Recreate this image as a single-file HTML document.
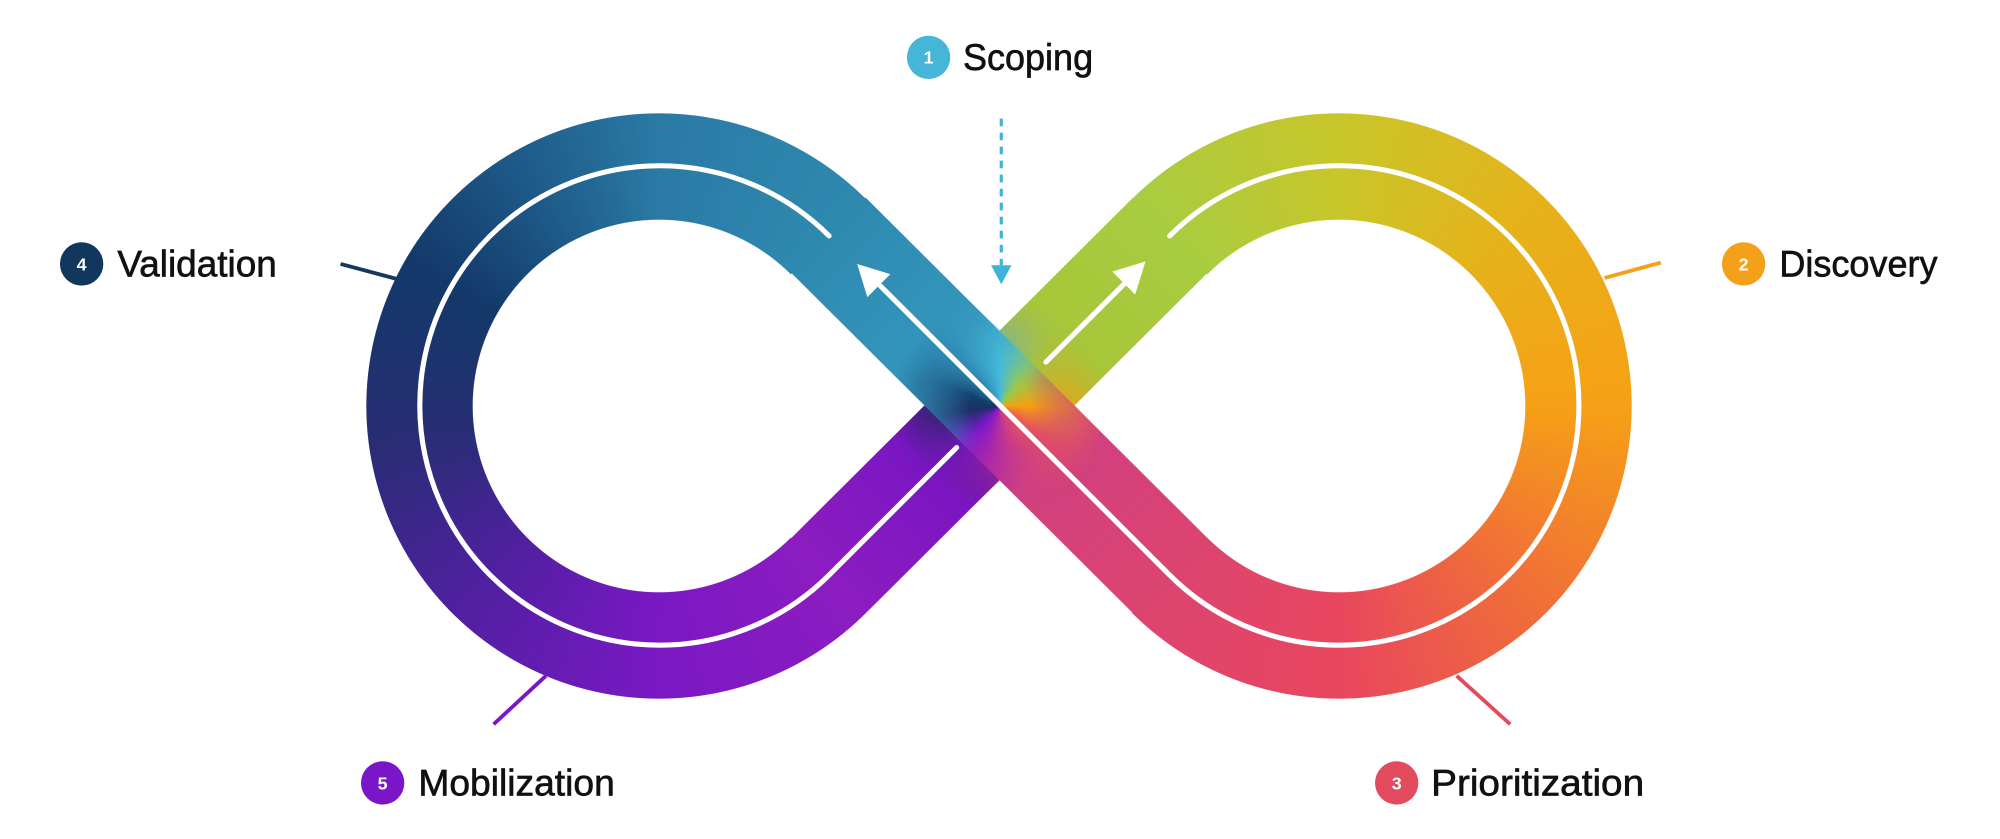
<!DOCTYPE html>
<html><head><meta charset="utf-8"><style>
html,body{margin:0;padding:0;background:#fff;}
body{position:relative;width:2000px;height:839px;overflow:hidden;}
svg{display:block;position:absolute;left:0;top:0;}
text{font-family:"Liberation Sans",sans-serif;}
.ring{position:absolute;width:586px;height:586px;border-radius:50%;
-webkit-mask-image:radial-gradient(circle closest-side,transparent 186px,#000 186.6px,#000 292.4px,transparent 293px);
mask-image:radial-gradient(circle closest-side,transparent 186px,#000 186.6px,#000 292.4px,transparent 293px);}
#L{left:366.4px;top:112.5px;background:conic-gradient(from 0deg,#2a7aa5 0deg,#2f89af 45deg,transparent 45deg,transparent 135deg,#8c1cc0 135deg,#7a18c4 180deg,#5020a0 225deg,#262e72 265deg,#13396a 300deg,#1e5a88 330deg,#2a7aa5 360deg);}
#R{left:1046.3px;top:112.5px;background:conic-gradient(from 0deg,#c8c62a 0deg,#e6b21a 45deg,#f6a016 90deg,#f06e38 135deg,#e8465e 180deg,#dc4470 225deg,transparent 225deg,transparent 315deg,#a8cc40 315deg,#c8c62a 360deg);}
#X{position:absolute;left:890px;top:295.5px;width:220px;height:220px;
background:conic-gradient(from 0deg,#46bada 0deg,#9cc848 40deg,#f5a010 90deg,#e85a55 125deg,#cc3c88 165deg,#9a20b8 200deg,#7a18c8 222deg,#1c2f66 262deg,#14406e 290deg,#3496be 330deg,#46bada 360deg);
clip-path:polygon(110px 35px,145px 0,220px 0,220px 75px,185px 110px,220px 145px,220px 220px,145px 220px,110px 185px,75px 220px,0 220px,0 145px,35px 110px,0 75px,0 0,75px 0);
-webkit-mask-image:radial-gradient(circle closest-side,#000 0,#000 30px,transparent 108px);
mask-image:radial-gradient(circle closest-side,#000 0,#000 30px,transparent 108px);}
</style></head><body>
<div class="ring" id="L"></div>
<div class="ring" id="R"></div>
<svg width="2000" height="839" viewBox="0 0 1568 658" preserveAspectRatio="none" xmlns="http://www.w3.org/2000/svg">
<defs>
<linearGradient id="gD1" gradientUnits="userSpaceOnUse" x1="650" y1="451" x2="917" y2="185">
<stop offset="0" stop-color="#8c1cc0"/><stop offset="0.3" stop-color="#7a16c2"/><stop offset="0.45" stop-color="#4a1670"/><stop offset="0.55" stop-color="#d2a828"/><stop offset="0.7" stop-color="#a8c63a"/><stop offset="1" stop-color="#a8cc40"/>
</linearGradient>
<linearGradient id="gD2" gradientUnits="userSpaceOnUse" x1="650" y1="185" x2="917" y2="451">
<stop offset="0" stop-color="#2f89af"/><stop offset="0.35" stop-color="#3497bd"/><stop offset="0.48" stop-color="#46bada"/><stop offset="0.53" stop-color="#a82aa8"/><stop offset="0.65" stop-color="#d04080"/><stop offset="1" stop-color="#dc4470"/>
</linearGradient>
</defs>
<path d="M649.4,451.6 L917.6,184.4" fill="none" stroke="url(#gD1)" stroke-width="83"/>
<path d="M649.4,184.4 L917.6,451.6" fill="none" stroke="url(#gD2)" stroke-width="83"/>
</svg>
<div id="X"></div>
<svg width="2000" height="839" viewBox="0 0 1568 658" preserveAspectRatio="none" xmlns="http://www.w3.org/2000/svg">
<g fill="none" stroke="#fff" stroke-width="4" stroke-linecap="round">
<path d="M650,185 A188,188 0 1 0 650,451 L750,351" />
<path d="M690,224 L917,451 A188,188 0 1 0 917,185"/>
<path d="M820,284 L884,220"/>
</g>
<polygon points="672,207 698,215 680,233" fill="#fff"/>
<polygon points="898,205 872,213 890,231" fill="#fff"/>
<line x1="785" y1="93" x2="785" y2="208" stroke="#40b4d8" stroke-width="2.5" stroke-dasharray="6,5"/>
<polygon points="777,208 793,208 785,223" fill="#40b4d8"/>
<line x1="267" y1="207" x2="312" y2="219" stroke="#15385f" stroke-width="3"/>
<line x1="1258" y1="218" x2="1302" y2="206" stroke="#f5a01a" stroke-width="3"/>
<line x1="428" y1="530" x2="387" y2="568" stroke="#7a16c8" stroke-width="3"/>
<line x1="1142" y1="530" x2="1184" y2="568" stroke="#e24a5e" stroke-width="3"/>
<g font-size="29" fill="#111" stroke="#111" stroke-width="0.5">
<text x="755" y="55" textLength="102" lengthAdjust="spacingAndGlyphs">Scoping</text>
<text x="92" y="217" textLength="125" lengthAdjust="spacingAndGlyphs">Validation</text>
<text x="1395" y="217" textLength="124" lengthAdjust="spacingAndGlyphs">Discovery</text>
<text x="328" y="624" textLength="154" lengthAdjust="spacingAndGlyphs">Mobilization</text>
<text x="1122" y="624" textLength="167" lengthAdjust="spacingAndGlyphs">Prioritization</text>
</g>
<circle cx="728" cy="45" r="17" fill="#45b5d8"/><text x="728" y="50" font-size="14" font-weight="bold" fill="#fff" text-anchor="middle">1</text>
<circle cx="64" cy="207" r="17" fill="#12375f"/><text x="64" y="212" font-size="14" font-weight="bold" fill="#fff" text-anchor="middle">4</text>
<circle cx="1367" cy="207" r="17" fill="#f5a01a"/><text x="1367" y="212" font-size="14" font-weight="bold" fill="#fff" text-anchor="middle">2</text>
<circle cx="300" cy="614" r="17" fill="#7a16c8"/><text x="300" y="619" font-size="14" font-weight="bold" fill="#fff" text-anchor="middle">5</text>
<circle cx="1095" cy="614" r="17" fill="#e24a5e"/><text x="1095" y="619" font-size="14" font-weight="bold" fill="#fff" text-anchor="middle">3</text>
</svg>
</body></html>
